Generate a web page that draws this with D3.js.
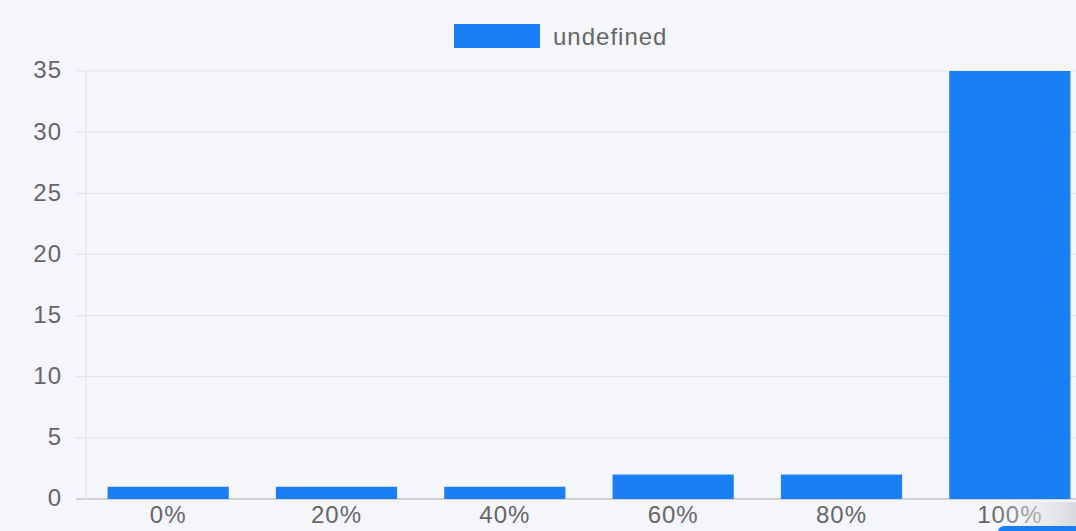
<!DOCTYPE html>
<html>
<head>
<meta charset="utf-8">
<script src="https://cdn.jsdelivr.net/npm/d3@7"></script>
<style>
  body { margin: 0; background: #f5f6fa; overflow: hidden; }
  svg { display: block; font-family: "Liberation Sans", Arial, sans-serif; }
</style>
</head>
<body>
<div id="chart"></div>
<script>
const categories = ["0%", "20%", "40%", "60%", "80%", "100%"]
const values = [1, 1, 1, 2, 2, 35]
const yTicks = [0, 5, 10, 15, 20, 25, 30, 35]
const seriesName = "undefined"

const W = 1076, H = 531
const MARGIN = { TOP: 71, BOTTOM: 32, LEFT: 86 }
const BLUE = "#1a7ef5"
const FONT = "24px"

const svg = d3.select("#chart").append("svg")
  .attr("width", W)
  .attr("height", H)

svg.append("rect").attr("width", W).attr("height", H).attr("fill", "#f5f6fa")

// plot runs a bit past the right edge of the window
const x = d3.scaleBand()
  .domain(categories)
  .range([84, 1094])

const y = d3.scaleLinear()
  .domain([0, 35])
  .range([H - MARGIN.BOTTOM, MARGIN.TOP])

// grid
svg.append("g")
  .selectAll("line")
  .data(yTicks)
  .join("line")
    .attr("x1", MARGIN.LEFT - 10)
    .attr("x2", W)
    .attr("y1", d => y(d))
    .attr("y2", d => y(d))
    .attr("stroke", d => d === 0 ? "#c4c4c4" : "#e3e4e8")
    .attr("stroke-width", d => d === 0 ? 1.5 : 1.2)

svg.append("line")
  .attr("x1", MARGIN.LEFT).attr("x2", MARGIN.LEFT)
  .attr("y1", y(35)).attr("y2", y(0) + 1)
  .attr("stroke", "#e3e4e8")
  .attr("stroke-width", 1.2)

// y labels
svg.append("g")
  .selectAll("text")
  .data(yTicks)
  .join("text")
    .attr("x", 62)
    .attr("y", d => y(d) - 1)
    .attr("dy", "0.35em")
    .attr("text-anchor", "end")
    .attr("font-size", FONT)
    .attr("letter-spacing", "1px")
    .attr("fill", "#666")
    .text(d => d)

// bars: 0.8 category * 0.9 bar
const bw = x.bandwidth() * 0.72
svg.append("g")
  .selectAll("rect")
  .data(values)
  .join("rect")
    .attr("x", (d, i) => x(categories[i]) + (x.bandwidth() - bw) / 2)
    .attr("y", d => y(d))
    .attr("width", bw)
    .attr("height", d => y(0) - y(d))
    .attr("fill", BLUE)

// x labels
svg.append("g")
  .selectAll("text")
  .data(categories)
  .join("text")
    .attr("x", d => x(d) + x.bandwidth() / 2)
    .attr("y", y(0) + 24)
    .attr("text-anchor", "middle")
    .attr("font-size", FONT)
    .attr("letter-spacing", "1px")
    .attr("fill", "#666")
    .text(d => d)

// legend
svg.append("rect")
  .attr("x", 454).attr("y", 24)
  .attr("width", 86).attr("height", 24)
  .attr("fill", BLUE)
svg.append("text")
  .attr("x", 553).attr("y", 45)
  .attr("font-size", FONT)
  .attr("letter-spacing", "1px")
  .attr("fill", "#666")
  .text(seriesName)

// overlay shadow at bottom right corner
const grad = svg.append("defs").append("linearGradient")
  .attr("id", "shade").attr("x1", 0).attr("x2", 1)
grad.append("stop").attr("offset", 0).attr("stop-color", "#f5f6fa").attr("stop-opacity", 0)
grad.append("stop").attr("offset", 1).attr("stop-color", "#d8d9dc")
svg.append("rect")
  .attr("x", 990).attr("y", 502)
  .attr("width", 86).attr("height", 29)
  .attr("fill", "url(#shade)")
svg.append("rect")
  .attr("x", 998).attr("y", 526)
  .attr("width", 90).attr("height", 14)
  .attr("rx", 6)
  .attr("fill", BLUE)
</script>
</body>
</html>
